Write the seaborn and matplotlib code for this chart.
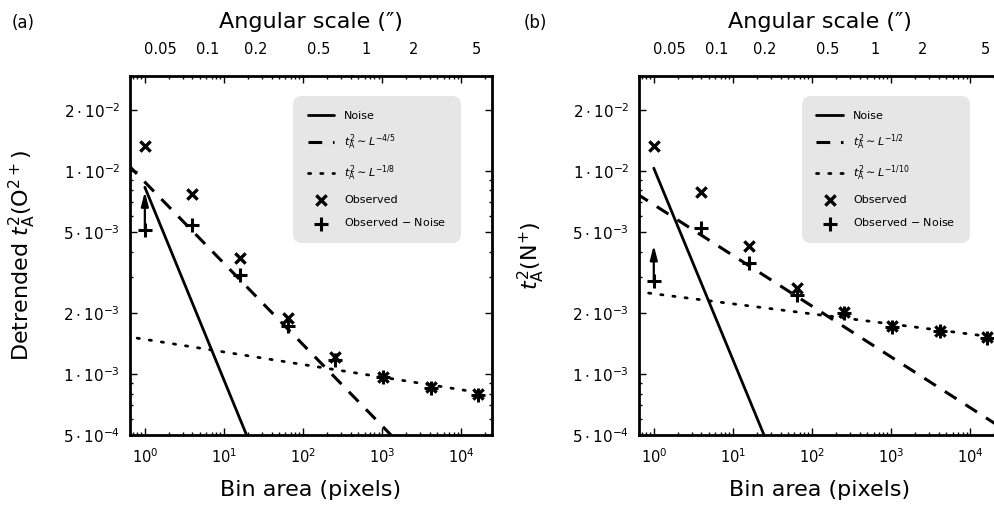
"""
plot.py
Two-panel log-log figure: t_A^2 against bin area for O2+ and N+.
Saves out.png.
"""

import numpy as np
import matplotlib
matplotlib.use("Agg")
import matplotlib.pyplot as plt
import matplotlib.ticker as mticker
import seaborn as sns

# ---- data ----
bin_area = [1, 4, 16, 64, 256, 1024, 4096, 16384]

obs_o2 = [0.0133, 0.0077, 0.0037, 0.00188, 0.00121, 0.00097, 0.00086, 0.00080]
sub_o2 = [0.0051, 0.0054, 0.00307, 0.00172, 0.00117, 0.00096, 0.00085, 0.00079]
obs_n = [0.0133, 0.0079, 0.00426, 0.00265, 0.00202, 0.00172, 0.00163, 0.00152]
sub_n = [0.00287, 0.00523, 0.00351, 0.00245, 0.00200, 0.00171, 0.00162, 0.00151]

noise_area = [1, 100]
noise_o2 = [0.0083, 1.05e-4]
noise_n = [0.0103, 1.34e-4]

fit_area = [0.6, 30000]
dash_o2 = [0.0108, 1.42e-4]
dash_n = [0.00774, 5.18e-4]

dot_area_o2 = [0.8, 20000]
dot_o2 = [0.0015, 0.0008]
dot_area_n = [0.86, 25000]
dot_n = [0.0025, 0.0015]

# arrow (lower limit) at bin area 1: from, to
arrow_o2 = [0.0051, 0.0079]
arrow_n = [0.00287, 0.0043]

ytick_vals = [5e-4, 1e-3, 2e-3, 5e-3, 1e-2, 2e-2]
ytick_labels = [r"$5\cdot10^{-4}$", r"$1\cdot10^{-3}$", r"$2\cdot10^{-3}$",
                r"$5\cdot10^{-3}$", r"$1\cdot10^{-2}$", r"$2\cdot10^{-2}$"]
ang_ticks = [0.05, 0.1, 0.2, 0.5, 1, 2, 5]
ang_labels = ["0.05", "0.1", "0.2", "0.5", "1", "2", "5"]
PIX_SCALE = 0.04  # arcsec per pixel

sns.set_theme(style="ticks")
plt.rcParams["font.family"] = ["DejaVu Sans"]
plt.rcParams["mathtext.fontset"] = "dejavusans"
plt.rcParams["text.color"] = "black"
plt.rcParams["axes.labelcolor"] = "black"
plt.rcParams["xtick.color"] = "black"
plt.rcParams["ytick.color"] = "black"
plt.rcParams["axes.edgecolor"] = "black"


def draw_panel(fig, rect, obs, sub, noise, dash, dot_area, dot, arrow,
               dash_lab, dot_lab, ylabel, tag, tag_x):
    ax = fig.add_axes(rect)
    ax.set_xscale("log")
    ax.set_yscale("log")

    sns.lineplot(x=noise_area, y=noise, ax=ax, color="black", lw=2,
                 label="Noise", sort=False)
    sns.lineplot(x=fit_area, y=dash, ax=ax, color="black", lw=2.2,
                 linestyle=(0, (4.5, 3.5)), label=dash_lab, sort=False)
    sns.lineplot(x=dot_area, y=dot, ax=ax, color="black", lw=2,
                 linestyle=(0, (0.8, 3.6)), dash_capstyle="round",
                 label=dot_lab, sort=False)
    sns.scatterplot(x=bin_area, y=obs, ax=ax, marker="x", s=55,
                    linewidth=2.4, color="black", label="Observed", zorder=5)
    sns.scatterplot(x=bin_area, y=sub, ax=ax, marker="+", s=110,
                    linewidth=2.2, color="black", label="Observed $-$ Noise",
                    zorder=5)
    ax.annotate("", xy=(bin_area[0], arrow[1]), xytext=(bin_area[0], arrow[0]),
                arrowprops=dict(arrowstyle="-|>,head_length=0.7,head_width=0.18",
                                lw=1.6, color="black", shrinkA=0, shrinkB=0))

    ax.set_xlim(0.65, 24500)
    ax.set_ylim(5e-4, 2.93e-2)

    ax.yaxis.set_major_locator(mticker.FixedLocator(ytick_vals))
    ax.yaxis.set_major_formatter(mticker.FixedFormatter(ytick_labels))
    ax.yaxis.set_minor_locator(mticker.LogLocator(subs=np.arange(2, 10)))
    ax.yaxis.set_minor_formatter(mticker.NullFormatter())
    ax.xaxis.set_minor_locator(mticker.LogLocator(subs=np.arange(2, 10)))

    ax.tick_params(which="both", direction="in", top=True, right=True,
                   color="black", width=1)
    ax.tick_params(which="major", length=5)
    ax.tick_params(which="minor", length=2.5)
    ax.tick_params(axis="x", labelsize=10.5, pad=9)
    ax.tick_params(axis="y", labelsize=11, pad=7)
    for sp in ax.spines.values():
        sp.set_linewidth(2)
        sp.set_color("black")

    ax.set_xlabel("Bin area (pixels)", fontsize=16)
    ax.xaxis.set_label_coords(0.5, -0.125)
    ax.set_ylabel(ylabel, fontsize=16)
    ax.yaxis.set_label_coords(-0.254, 0.5)

    sec = ax.secondary_xaxis(
        "top",
        functions=(lambda a: PIX_SCALE * np.sqrt(np.clip(a, 1e-12, None)),
                   lambda s: (np.clip(s, 1e-12, None) / PIX_SCALE) ** 2))
    sec.set_xticks(ang_ticks)
    sec.set_xticklabels(ang_labels)
    sec.xaxis.set_minor_locator(mticker.NullLocator())
    sec.tick_params(length=0, labelsize=10.5, pad=14)
    sec.spines["top"].set_visible(False)
    sec.set_xlabel("Angular scale (\u2033)", fontsize=16, labelpad=10)

    leg = ax.legend(loc="upper right", bbox_to_anchor=(0.914, 0.944),
                    borderaxespad=0, fontsize=8, frameon=True, fancybox=True,
                    facecolor="#e6e6e6", edgecolor="none", framealpha=1,
                    handlelength=2.4, handletextpad=0.9, labelspacing=1.05,
                    borderpad=1.3)
    leg.get_frame().set_boxstyle("round,pad=0,rounding_size=0.8")

    fig.text(tag_x, 0.955, tag, fontsize=12, ha="left", va="center")
    return ax


fig = plt.figure(figsize=(9.95, 5.14), dpi=100)
draw_panel(fig, [0.1307, 0.1537, 0.3638, 0.6984], obs_o2, sub_o2, noise_o2,
           dash_o2, dot_area_o2, dot_o2, arrow_o2,
           r"$t_\mathrm{A}^2 \sim L^{-4/5}$", r"$t_\mathrm{A}^2 \sim L^{-1/8}$",
           r"Detrended $t_\mathrm{A}^2(\mathrm{O}^{2+})$", "(a)", 0.012)
draw_panel(fig, [0.6422, 0.1537, 0.3638, 0.6984], obs_n, sub_n, noise_n,
           dash_n, dot_area_n, dot_n, arrow_n,
           r"$t_\mathrm{A}^2 \sim L^{-1/2}$", r"$t_\mathrm{A}^2 \sim L^{-1/10}$",
           r"$t_\mathrm{A}^2(\mathrm{N}^{+})$", "(b)", 0.526)

fig.savefig("out.png", dpi=100)
